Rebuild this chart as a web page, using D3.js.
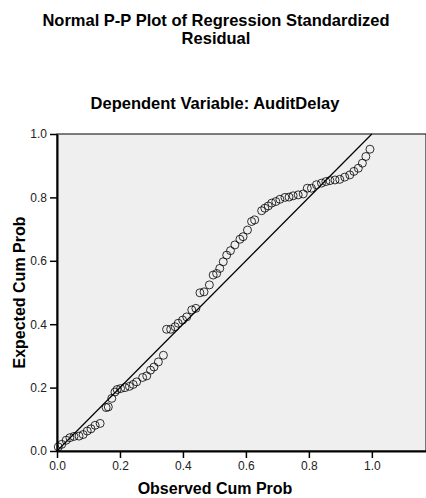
<!DOCTYPE html>
<html>
<head>
<meta charset="utf-8">
<script src="https://cdnjs.cloudflare.com/ajax/libs/d3/7.8.5/d3.min.js"></script>
<style>
  body { margin: 0; background: #fff; }
  text { font-family: "Liberation Sans", Arial, sans-serif; }
</style>
</head>
<body>
<div id="chart"></div>
<script>
// observed cumulative probability (x) and expected cumulative probability (y)
var observed = [0.004,0.015,0.029,0.041,0.054,0.070,0.083,0.096,0.108,0.121,0.137,
  0.156,0.163,0.174,0.184,0.191,0.202,0.216,0.230,0.242,0.253,0.272,0.285,0.297,0.308,0.322,0.338,
  0.348,0.361,0.375,0.385,0.399,0.412,0.428,0.441,0.454,0.467,0.484,0.496,0.507,0.517,0.528,
  0.539,0.551,0.565,0.581,0.591,0.605,0.618,0.628,0.650,0.660,0.671,0.682,0.695,0.708,0.724,
  0.737,0.750,0.766,0.782,0.795,0.808,0.824,0.840,0.854,0.867,0.883,0.898,0.914,0.930,0.943,
  0.957,0.970,0.981,0.994];
var expected = [0.013,0.021,0.034,0.042,0.046,0.047,0.052,0.063,0.070,0.081,0.087,
  0.137,0.139,0.166,0.186,0.194,0.197,0.200,0.204,0.210,0.218,0.232,0.237,0.255,0.265,0.281,0.302,
  0.384,0.384,0.392,0.403,0.413,0.423,0.445,0.450,0.499,0.502,0.524,0.555,0.560,0.576,0.597,
  0.618,0.632,0.650,0.668,0.676,0.697,0.724,0.729,0.758,0.766,0.773,0.782,0.787,0.794,0.800,
  0.801,0.805,0.808,0.811,0.829,0.829,0.840,0.845,0.850,0.853,0.855,0.857,0.864,0.871,0.882,
  0.892,0.908,0.929,0.952];
var tickValues = [0, 0.2, 0.4, 0.6, 0.8, 1.0];

var data = observed.map(function(d, i) { return {x: d, y: expected[i]}; });

var width = 426, height = 498;
var margin = {top: 134, right: 0, bottom: 47, left: 57};

var svg = d3.select("#chart")
  .append("svg")
    .attr("width", width)
    .attr("height", height);

var x = d3.scaleLinear()
  .domain([0, 1.172])
  .range([margin.left, width - margin.right]);

var y = d3.scaleLinear()
  .domain([0, 1])
  .range([height - margin.bottom, margin.top]);

// titles
svg.append("text")
  .attr("x", 216).attr("y", 26)
  .attr("text-anchor", "middle")
  .style("font-size", "16.5px").style("font-weight", "bold")
  .text("Normal P-P Plot of Regression Standardized");
svg.append("text")
  .attr("x", 216).attr("y", 44)
  .attr("text-anchor", "middle")
  .style("font-size", "16.5px").style("font-weight", "bold")
  .text("Residual");
svg.append("text")
  .attr("x", 215).attr("y", 109)
  .attr("text-anchor", "middle")
  .style("font-size", "16.5px").style("font-weight", "bold")
  .text("Dependent Variable: AuditDelay");

// plot background
svg.append("rect")
  .attr("x", x(0)).attr("y", y(1))
  .attr("width", x(1.172) - x(0))
  .attr("height", y(0) - y(1))
  .attr("fill", "#efefef")
  .attr("stroke", "#000")
  .attr("stroke-width", 1);

// axes
var xAxis = svg.append("g")
  .attr("transform", "translate(0," + y(0) + ")")
  .call(d3.axisBottom(x).tickValues(tickValues).tickFormat(d3.format(".1f")).tickSize(7).tickSizeOuter(0));
var yAxis = svg.append("g")
  .attr("transform", "translate(" + x(0) + ",0)")
  .call(d3.axisLeft(y).tickValues(tickValues).tickFormat(d3.format(".1f")).tickSize(7).tickSizeOuter(0));

[xAxis, yAxis].forEach(function(a) {
  a.select(".domain").attr("stroke", "#000").attr("stroke-width", 2);
  a.selectAll(".tick line").attr("stroke", "#000").attr("stroke-width", 1.5);
  a.selectAll(".tick text")
    .style("font-family", "'Liberation Sans', Arial, sans-serif")
    .style("font-size", "12px")
    .attr("fill", "#222");
});
yAxis.selectAll(".tick text").attr("x", -10);
xAxis.selectAll(".tick text").attr("y", 10);

// axis labels
svg.append("text")
  .attr("x", 215).attr("y", 494)
  .attr("text-anchor", "middle")
  .style("font-size", "16px").style("font-weight", "bold")
  .text("Observed Cum Prob");
svg.append("text")
  .attr("transform", "translate(25," + ((y(0) + y(1)) / 2) + ") rotate(-90)")
  .attr("text-anchor", "middle")
  .style("font-size", "16px").style("font-weight", "bold")
  .text("Expected Cum Prob");

// reference diagonal
svg.append("line")
  .attr("x1", x(0)).attr("y1", y(0))
  .attr("x2", x(1)).attr("y2", y(1))
  .attr("stroke", "#000")
  .attr("stroke-width", 1.2);

// points
svg.append("g")
  .selectAll("circle")
  .data(data)
  .enter()
  .append("circle")
    .attr("cx", function(d) { return x(d.x); })
    .attr("cy", function(d) { return y(d.y); })
    .attr("r", 4)
    .attr("fill", "none")
    .attr("stroke", "#000")
    .attr("stroke-width", 0.8);
</script>
</body>
</html>
